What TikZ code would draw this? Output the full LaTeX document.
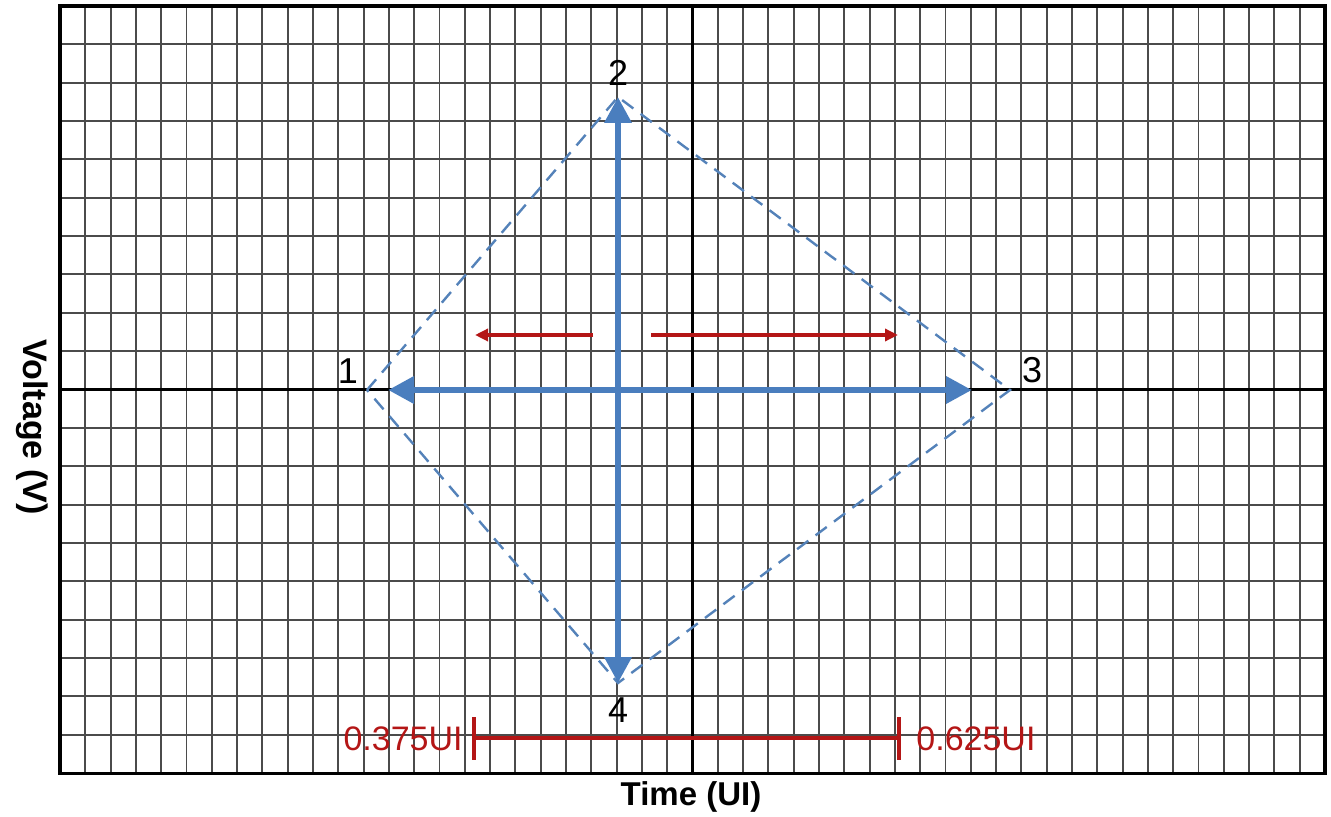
\documentclass[tikz,border=0pt]{standalone}
\usepackage{fontspec}
\setmainfont{Liberation Sans}
\usetikzlibrary{arrows.meta}
\definecolor{bluearrow}{RGB}{74,126,190}
\definecolor{bluedash}{RGB}{84,130,185}
\definecolor{darkred}{RGB}{180,22,22}
\definecolor{gridgray}{RGB}{75,75,75}
\tikzset{
  gridline/.style={draw=gridgray,line width=0.95pt},
  axisline/.style={draw=black,line width=1.3pt},
  frameline/.style={draw=black,line width=1.8pt},
  diamondline/.style={draw=bluedash,line width=1.2pt,dash pattern=on 7pt off 4.5pt},
  bluearr/.style={draw=bluearrow,line width=3.4pt,{Triangle[length=13pt,width=13pt]}-{Triangle[length=13pt,width=13pt]}},
  redarr/.style={draw=darkred,line width=1.8pt,-{Triangle[length=6.5pt,width=6pt]}},
  redbar/.style={draw=darkred,line width=2pt},
  redtick/.style={draw=darkred,line width=2.3pt},
  numlabel/.style={inner sep=0pt,font=\fontsize{18}{21}\selectfont},
  redlabel/.style={inner sep=0pt,text=darkred,font=\fontsize{17}{20}\selectfont},
  axislabel/.style={inner sep=0pt,font=\bfseries\fontsize{16.5}{19}\selectfont},
}
\begin{document}
\begin{tikzpicture}[x=0.5pt,y=-0.5pt]
\useasboundingbox (0,0) rectangle (1331,817);
% grid
\foreach \i in {0,...,50} \draw[gridline] ({60+\i*25.3},6) -- ({60+\i*25.3},773.35);
\foreach \j in {0,...,20} \draw[gridline] (60,{6+\j*38.35}) -- (1325,{6+\j*38.35});
% axes
\draw[axisline] (692.5,6) -- (692.5,773.35);
\draw[axisline] (60,389.5) -- (1325,389.5);
% frame
\draw[frameline] (60,6) rectangle (1325,773.35);
% diamond corners
\coordinate (p1) at (367,390);
\coordinate (p2) at (618,97);
\coordinate (p3) at (1010,390);
\coordinate (p4) at (618,683);
\draw[diamondline] (p1) -- (p2) -- (p3) -- (p4) -- cycle;
% blue arrows
\coordinate (h1) at (388,390);
\coordinate (h3) at (972,390);
\draw[bluearr] (h1) -- (h3);
\draw[bluearr] (p2) -- (p4);
% red arrows
\coordinate (la) at (593,335);
\coordinate (lb) at (475,335);
\coordinate (ra) at (651,335);
\coordinate (rb) at (898,335);
\draw[redarr] (la) -- (lb);
\draw[redarr] (ra) -- (rb);
% red bar
\coordinate (b1) at (474,738);
\coordinate (b2) at (899,738);
\draw[redbar] (b1) -- (b2);
\draw[redtick] (474,717) -- (474,760);
\draw[redtick] (899,717) -- (899,760);
% labels
\node[numlabel] (n1) at (348,371) {1};
\node[numlabel] (n2) at (618,73) {2};
\node[numlabel] (n3) at (1032,370) {3};
\node[numlabel] (n4) at (618,710) {4};
\node[redlabel,anchor=east] (l375) at (463,739) {0.375UI};
\node[redlabel,anchor=west] (l625) at (916,739) {0.625UI};
\node[axislabel] (tx) at (691,797) {Time (UI)};
\node[axislabel,rotate=-90,font=\bfseries\fontsize{17}{20}\selectfont] (ty) at (32,427) {Voltage (V)};
\end{tikzpicture}
\end{document}
